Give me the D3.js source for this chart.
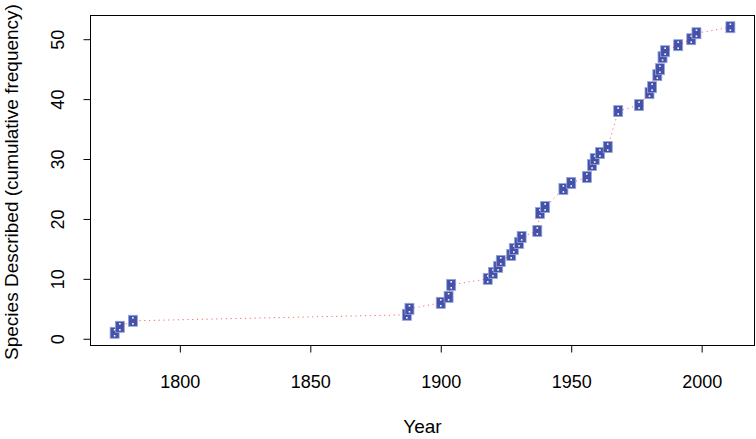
<!DOCTYPE html>
<html>
<head>
<meta charset="utf-8">
<script src="https://cdn.jsdelivr.net/npm/d3@7"></script>
<style>
  body { margin: 0; background: #fff; }
  text { font-family: "Liberation Sans", Arial, Helvetica, sans-serif; fill: #000; }
</style>
</head>
<body>
<div id="chart"></div>
<script>
// years in which species were described, and the running total
var years = [1775, 1777, 1782, 1887, 1888, 1900, 1903, 1904, 1918, 1920,
             1922, 1923, 1927, 1928, 1930, 1931, 1937, 1938, 1940, 1947,
             1950, 1956, 1958, 1959, 1961, 1964, 1968, 1976, 1980, 1981,
             1983, 1984, 1985, 1986, 1991, 1996, 1998, 2011];
var counts = [1, 2, 3, 4, 5, 6, 7, 9, 10, 11,
              12, 13, 14, 15, 16, 17, 18, 21, 22, 25,
              26, 27, 29, 30, 31, 32, 38, 39, 41, 42,
              44, 45, 47, 48, 49, 50, 51, 52];
var xTicks = [1800, 1850, 1900, 1950, 2000];
var yTicks = [0, 10, 20, 30, 40, 50];

var width = 756;
var height = 439;
var plotLeft = 90, plotRight = 755, plotTop = 15, plotBottom = 345;

var svg = d3.select('#chart').append('svg').attr('width', width).attr('height', height);

// R style 4% padding on both axes
var xr = d3.extent(years), xpad = (xr[1] - xr[0]) * 0.04;
var yr = d3.extent(counts), ypad = (yr[1] - yr[0]) * 0.04;
var x = d3.scaleLinear().domain([xr[0] - xpad, xr[1] + xpad]).range([plotLeft, plotRight]);
var y = d3.scaleLinear().domain([yr[0] - ypad, yr[1] + ypad]).range([plotBottom, plotTop]);

var data = years.map(function(d, i){ return {year: d, n: counts[i]}; });

// Box
svg.append('rect').attr('x', plotLeft + 0.5).attr('y', plotTop + 0.5)
  .attr('width', plotRight - plotLeft - 1).attr('height', plotBottom - plotTop)
  .style('fill', 'none').style('stroke', '#000').style('stroke-width', 1);

// Axes
var xAxis = svg.append('g').attr('transform', 'translate(0,' + (plotBottom + 0.5) + ')')
  .call(d3.axisBottom(x).tickValues(xTicks).tickFormat(d3.format('d')).tickSize(7).tickPadding(23));
xAxis.select('.domain').remove();
xAxis.selectAll('text').style('font-size', '18px');

var yAxis = svg.append('g').attr('transform', 'translate(' + (plotLeft + 0.5) + ',0)')
  .call(d3.axisLeft(y).tickValues(yTicks).tickSize(7));
yAxis.select('.domain').remove();
yAxis.selectAll('text')
  .style('font-size', '18px')
  .attr('x', null).attr('dy', null)
  .attr('text-anchor', 'middle')
  .attr('transform', 'translate(-33,0) rotate(-90)')
  .attr('dy', '0.35em');

// Points
var pts = svg.append('g').selectAll('g.pt').data(data).enter().append('g')
  .attr('transform', function(d){ return 'translate(' + x(d.year) + ',' + y(d.n) + ')'; });
pts.append('rect').attr('x', -4.5).attr('y', -5.5).attr('width', 9).attr('height', 11)
  .style('fill', '#4053ad').style('stroke', '#9aa4d6').style('stroke-width', 0.8);
pts.append('rect').attr('x', -0.8).attr('y', -3.8).attr('width', 1.6).attr('height', 1.6).style('fill', '#fff');
pts.append('rect').attr('x', -0.8).attr('y', 2.2).attr('width', 1.6).attr('height', 1.6).style('fill', '#fff');

// Dotted red line through the points
var line = d3.line().x(function(d){ return x(d.year); }).y(function(d){ return y(d.n); });
svg.append('path').datum(data).attr('d', line)
  .style('fill', 'none').style('stroke', '#ff0000').style('stroke-opacity', 0.6)
  .style('stroke-width', 1).style('stroke-dasharray', '1.2,3.6');

// Axis titles
svg.append('text').attr('x', (plotLeft + plotRight) / 2).attr('y', 433)
  .attr('text-anchor', 'middle').style('font-size', '19px').text('Year');
svg.append('text').attr('transform', 'translate(18,182) rotate(-90)')
  .attr('text-anchor', 'middle').style('font-size', '19px')
  .text('Species Described (cumulative frequency)');
</script>
</body>
</html>
